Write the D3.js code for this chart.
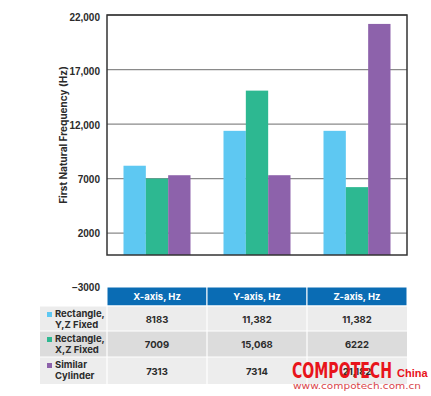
<!DOCTYPE html>
<html>
<head>
<meta charset="utf-8">
<script src="https://cdn.jsdelivr.net/npm/d3@7"></script>
<style>
  body { margin: 0; background: #fff; }
  svg { display: block; font-family: Inter, "Noto Sans", sans-serif; }
</style>
</head>
<body>
<svg id="chart" width="431" height="396"></svg>
<script>
const axes = ['X-axis, Hz', 'Y-axis, Hz', 'Z-axis, Hz'];
const seriesNames = [['Rectangle,', 'Y,Z Fixed'], ['Rectangle,', 'X,Z Fixed'], ['Similar', 'Cylinder']];
const rectYZ = [8183, 11382, 11382];
const rectXZ = [7009, 15068, 6222];
const cylinder = [7313, 7314, 21182];
const tableText = [['8183', '11,382', '11,382'], ['7009', '15,068', '6222'], ['7313', '7314', '21,182']];
const gridTicks = [2000, 7000, 12000, 17000, 22000];
const labelTicks = [22000, 17000, 12000, 7000, 2000, -3000];
const colors = ['#5ec8f2', '#2db891', '#8d62ab'];

const svg = d3.select('#chart');
const plotL = 107, plotR = 407, plotT = 15, plotB = 255;

const x0 = d3.scaleBand().domain(axes).range([plotL, plotR]).paddingInner(0.33).paddingOuter(0.165);
const x1 = d3.scaleBand().domain([0, 1, 2]).range([0, x0.bandwidth()]);
const y = d3.scaleLinear().domain([0, 22000]).range([plotB, plotT]);
// the labels in the original sit on their own (slightly stretched) spacing
const yLabel = d3.scaleLinear().domain([-3000, 22000]).range([287, 17]);

// grid
svg.append('g').selectAll('line').data(gridTicks).join('line')
  .attr('x1', plotL).attr('x2', plotR)
  .attr('y1', d => y(d)).attr('y2', d => y(d))
  .attr('stroke', '#8a8a8a').attr('stroke-width', 1.3);

// bars
const series = [rectYZ, rectXZ, cylinder];
series.forEach((vals, i) => {
  svg.append('g').selectAll('rect').data(vals).join('rect')
    .attr('x', (d, j) => x0(axes[j]) + x1(i))
    .attr('y', d => y(d))
    .attr('width', x1.bandwidth())
    .attr('height', d => y(0) - y(d))
    .attr('fill', colors[i]);
});

// frame
svg.append('rect').attr('x', plotL).attr('y', plotT).attr('width', plotR - plotL).attr('height', plotB - plotT)
  .attr('fill', 'none').attr('stroke', '#333').attr('stroke-width', 1.5);

// tick labels
const yAxis = svg.append('g').attr('transform', `translate(${plotL - 4},0)`)
  .call(d3.axisLeft(yLabel).tickValues(labelTicks).tickSize(0)
    .tickFormat(d => Math.abs(d) >= 10000 ? d3.format(',')(d) : (d < 0 ? '\u2212' + (-d) : d)));
yAxis.select('.domain').remove();
yAxis.selectAll('text').attr('font-size', 10).attr('font-weight', 700).attr('fill', '#2b2b2b');

svg.append('text')
  .attr('transform', 'translate(67,135) rotate(-90)')
  .attr('text-anchor', 'middle')
  .attr('font-size', 10).attr('font-weight', 700).attr('fill', '#2b2b2b')
  .text('First Natural Frequency (Hz)');

// table
const headTop = 287, headH = 19, rowH = [25, 26, 27];
const rowTops = [306, 331, 357];
const rowFill = ['#ececec', '#dcdcdc', '#ededed'];

svg.append('g').selectAll('rect').data(axes).join('rect')
  .attr('x', d => x0(d) - x0.step() * x0.paddingInner() / 2)
  .attr('y', headTop).attr('width', x0.step()).attr('height', headH)
  .attr('fill', '#0a6cb4').attr('stroke', '#fff').attr('stroke-width', 1);
svg.append('g').selectAll('text').data(axes).join('text')
  .attr('x', d => x0(d) + x0.bandwidth() / 2).attr('y', headTop + 13)
  .attr('text-anchor', 'middle').attr('fill', '#fff')
  .attr('font-size', 9.5).attr('font-weight', 700)
  .text(d => d);

rowTops.forEach((ry, i) => {
  const g = svg.append('g');
  g.append('rect').attr('x', 40).attr('y', ry).attr('width', plotR - 40).attr('height', rowH[i])
    .attr('fill', rowFill[i]);
  g.append('line').attr('x1', 40).attr('x2', plotR).attr('y1', ry).attr('y2', ry)
    .attr('stroke', '#fff').attr('stroke-width', 1);
  g.selectAll('line.v').data([plotL, plotL + 100, plotL + 200]).join('line')
    .attr('class', 'v')
    .attr('x1', d => d).attr('x2', d => d).attr('y1', ry).attr('y2', ry + rowH[i])
    .attr('stroke', '#fff').attr('stroke-width', 1.2);
  g.append('rect').attr('x', 47).attr('y', ry + 6).attr('width', 5).attr('height', 5).attr('fill', colors[i]);
  g.append('text').attr('x', 55).attr('y', ry + 11)
    .attr('font-size', 9.5).attr('font-weight', 700).attr('fill', '#2b2b2b')
    .selectAll('tspan').data(seriesNames[i]).join('tspan')
    .attr('x', 55).attr('dy', (d, k) => k ? 11 : 0).text(d => d);
  g.selectAll('text.val').data(tableText[i]).join('text')
    .attr('class', 'val')
    .attr('x', (d, j) => x0(axes[j]) + x0.bandwidth() / 2)
    .attr('y', ry + rowH[i] / 2 + 4)
    .attr('text-anchor', 'middle').attr('font-size', 9.5).attr('font-weight', 700).attr('fill', '#2b2b2b')
    .text(d => d);
});

// watermark
svg.append('text').attr('x', 292).attr('y', 378)
  .attr('font-family', '"Liberation Sans Narrow", "DejaVu Sans Condensed", sans-serif')
  .attr('font-size', 21).attr('font-weight', 700).attr('fill', '#e8141b')
  .attr('textLength', 100).attr('lengthAdjust', 'spacingAndGlyphs')
  .text('COMPOTECH');
svg.append('text').attr('x', 397).attr('y', 377)
  .attr('font-family', '"Liberation Sans Narrow", sans-serif')
  .attr('font-size', 11).attr('font-weight', 700).attr('fill', '#e8141b')
  .text('China');
svg.append('text').attr('x', 293).attr('y', 389)
  .attr('font-family', '"DejaVu Sans", sans-serif')
  .attr('font-size', 9).attr('fill', '#d9454a')
  .attr('textLength', 128).attr('lengthAdjust', 'spacingAndGlyphs')
  .text('www.compotech.com.cn');
</script>
</body>
</html>
